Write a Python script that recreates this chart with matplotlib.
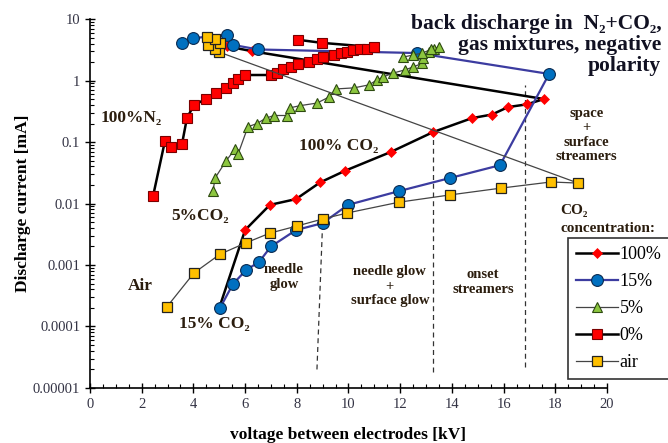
import matplotlib
matplotlib.use("Agg")
import matplotlib.pyplot as plt
from matplotlib.ticker import FixedLocator, MultipleLocator, LogLocator, NullFormatter

plt.rcParams['font.family'] = ['Liberation Serif', 'DejaVu Serif']

# 100% CO2 (red diamonds)
co2_100_x = [5.0, 6.0, 6.96, 7.97, 8.9, 9.86, 11.64, 13.27, 14.78, 15.55, 16.17, 16.9, 17.56, 6.27, 5.3]
co2_100_y = [0.0002, 0.0037, 0.0095, 0.0118, 0.022, 0.034, 0.069, 0.145, 0.245, 0.28, 0.37, 0.41, 0.5, 3.0, 3.6]

# 15% CO2 (blue circles)
co2_15_x = [5.03, 5.53, 6.04, 6.54, 7.0, 7.97, 9.0, 9.98, 11.95, 13.93, 15.86, 17.76,
            12.65, 6.5, 5.53, 5.3, 3.99, 3.56]
co2_15_y = [0.0002, 0.00049, 0.00083, 0.00112, 0.002, 0.0037, 0.0048, 0.0095, 0.0159, 0.026, 0.042, 1.28,
            2.8, 3.2, 3.8, 5.5, 4.9, 4.07]

# 5% CO2 (green triangles)
co2_5_x = [4.76, 4.84, 5.26, 5.61, 5.73, 6.11, 6.46, 6.81, 7.12, 7.62, 7.74, 8.12, 8.78, 9.25, 9.52,
           10.21, 10.79, 11.1, 11.33, 11.72, 12.18, 12.5, 12.84, 12.9, 13.1, 13.3, 13.5, 13.2, 12.85, 12.5, 12.1]
co2_5_y = [0.016, 0.026, 0.049, 0.077, 0.064, 0.177, 0.2, 0.245, 0.27, 0.27, 0.36, 0.39, 0.43, 0.54, 0.73,
           0.76, 0.85, 1.02, 1.14, 1.32, 1.49, 1.66, 1.9, 2.3, 2.9, 3.3, 3.5, 3.2, 2.8, 2.6, 2.4]

# 0% CO2 (red squares)
co2_0_x = [2.44, 2.9, 3.13, 3.56, 3.75, 4.02, 4.49, 4.87, 5.26, 5.53, 5.73, 6.0, 7.0, 7.23, 7.47, 7.76,
           8.05, 8.47, 8.78, 9.0, 9.44, 9.71, 9.94, 10.17, 10.44, 10.7, 10.97, 8.97, 8.05]
co2_0_y = [0.0132, 0.104, 0.083, 0.093, 0.245, 0.4, 0.5, 0.63, 0.75, 0.9, 1.05, 1.23, 1.23, 1.34, 1.52, 1.66,
           1.85, 2.0, 2.2, 2.4, 2.6, 2.8, 2.9, 3.1, 3.2, 3.3, 3.5, 4.1, 4.6]

# air (yellow squares)
air_x = [2.98, 4.02, 5.03, 6.04, 6.96, 8.0, 9.0, 9.94, 11.95, 13.93, 15.9, 17.83, 18.88,
         5.0, 4.84, 4.56, 5.03, 4.84, 4.53]
air_y = [0.00021, 0.00074, 0.0015, 0.0023, 0.0033, 0.0043, 0.0056, 0.007, 0.0105, 0.0138, 0.0178, 0.0224, 0.0215,
         2.9, 3.2, 3.8, 4.1, 4.7, 5.1]

# regime boundaries (dashed)
bound1_x = [8.78, 9.0]
bound1_y = [0.00002, 0.005]
bound2_x = [13.27, 13.27]
bound2_y = [0.000018, 0.145]
bound3_x = [16.83, 16.83]
bound3_y = [0.000022, 0.85]

y_ticks = [0.00001, 0.0001, 0.001, 0.01, 0.1, 1, 10]
y_labels = ['0.00001', '0.0001', '0.001', '0.01', '0.1', '1', '10']

txt = '#2b1d0e'

fig = plt.figure(figsize=(6.68, 4.43), dpi=100)
ax = fig.add_axes([0.1347, 0.1242, 0.774, 0.8328])

ax.plot(bound1_x, bound1_y, color='#333333', lw=0.9, ls=(0, (4, 3)))
ax.plot(bound2_x, bound2_y, color='#333333', lw=0.9, ls=(0, (4, 3)))
ax.plot(bound3_x, bound3_y, color='#333333', lw=0.9, ls=(0, (4, 3)))

l100, = ax.plot(co2_100_x, co2_100_y, color='black', lw=1.8, marker='D', ms=5.5,
                mfc='#ff0000', mec='#ff0000', mew=0.5, label='100%', zorder=3)
l15, = ax.plot(co2_15_x, co2_15_y, color='#3c3ca0', lw=1.6, marker='o', ms=8.5,
               mfc='#0070c0', mec='#0a2a50', mew=0.8, label='15%', zorder=4)
l5, = ax.plot(co2_5_x, co2_5_y, color='#444444', lw=0.9, marker='^', ms=7.5,
              mfc='#8cc63f', mec='#2d4a10', mew=0.8, label='5%', zorder=4)
l0, = ax.plot(co2_0_x, co2_0_y, color='black', lw=1.8, marker='s', ms=7,
              mfc='#ff0000', mec='#7a0000', mew=0.8, label='0%', zorder=5)
lair, = ax.plot(air_x, air_y, color='#444444', lw=0.9, marker='s', ms=7.5,
                mfc='#ffc000', mec='#222222', mew=0.9, label='air', zorder=6)

ax.set_yscale('log')
ax.set_xlim(0, 20)
ax.set_ylim(0.00001, 10)
ax.set_xticks(range(0, 21, 2))
ax.xaxis.set_minor_locator(MultipleLocator(0.5))
ax.yaxis.set_major_locator(FixedLocator(y_ticks))
ax.set_yticklabels(y_labels)
ax.yaxis.set_minor_locator(LogLocator(base=10, subs=range(2, 10)))
ax.yaxis.set_minor_formatter(NullFormatter())
ax.tick_params(which='major', direction='inout', length=7, width=1, labelsize=10.5)
ax.tick_params(which='minor', direction='in', length=3, width=0.8)
for lab in ax.get_xticklabels() + ax.get_yticklabels():
    lab.set_color('#333344')

ax.spines['top'].set_visible(False)
ax.spines['right'].set_visible(False)
ax.spines['left'].set_linewidth(1.2)
ax.spines['bottom'].set_linewidth(1.2)

ax.set_xlabel('voltage between electrodes [kV]', fontsize=12.5, fontweight='bold', labelpad=12)
ax.set_ylabel('Discharge current [mA]', fontsize=12.5, fontweight='bold', labelpad=1)

fig.text(0.99, 0.968, 'back discharge in  N\u2082+CO\u2082,\ngas mixtures, negative\npolarity',
         ha='right', va='top', fontsize=15.5, fontweight='bold', linespacing=1.05, color='#111122')

ax.text(0.4, 0.25, '100%N\u2082', fontsize=12.5, fontweight='bold', color=txt, ha='left', va='center')
ax.text(8.1, 0.085, '100% CO\u2082', fontsize=12.5, fontweight='bold', color=txt, ha='left', va='center')
ax.text(3.15, 0.0062, '5%CO\u2082', fontsize=12.5, fontweight='bold', color=txt, ha='left', va='center')
ax.text(1.45, 0.00045, 'Air', fontsize=12.5, fontweight='bold', color=txt, ha='left', va='center')
ax.text(3.45, 0.00011, '15% CO\u2082', fontsize=12.5, fontweight='bold', color=txt, ha='left', va='center')
ax.text(7.5, 0.00065, 'needle\nglow', fontsize=10.5, fontweight='bold', color=txt, ha='center', va='center',
        linespacing=1.2)
ax.text(11.6, 0.00045, 'needle glow\n+\nsurface glow', fontsize=10.5, fontweight='bold', color=txt,
        ha='center', va='center', linespacing=1.15)
ax.text(15.2, 0.00052, 'onset\nstreamers', fontsize=10.5, fontweight='bold', color=txt,
        ha='center', va='center', linespacing=1.2)
ax.text(19.2, 0.13, 'space\n+\nsurface\nstreamers', fontsize=10.5, fontweight='bold', color=txt,
        ha='center', va='center', linespacing=1.15)
ax.text(18.2, 0.0055, 'CO\u2082\nconcentration:', fontsize=11, fontweight='bold', color=txt,
        ha='left', va='center', linespacing=1.5)

leg = ax.legend(handles=[l100, l15, l5, l0, lair], loc='upper left', bbox_to_anchor=(0.925, 0.406),
                fontsize=13, frameon=True, fancybox=False, edgecolor='black', handlelength=2.3,
                handletextpad=0.1, borderpad=0.45, labelspacing=0.55, borderaxespad=0)
leg.get_frame().set_linewidth(1.2)

fig.savefig('out.png', dpi=100)
